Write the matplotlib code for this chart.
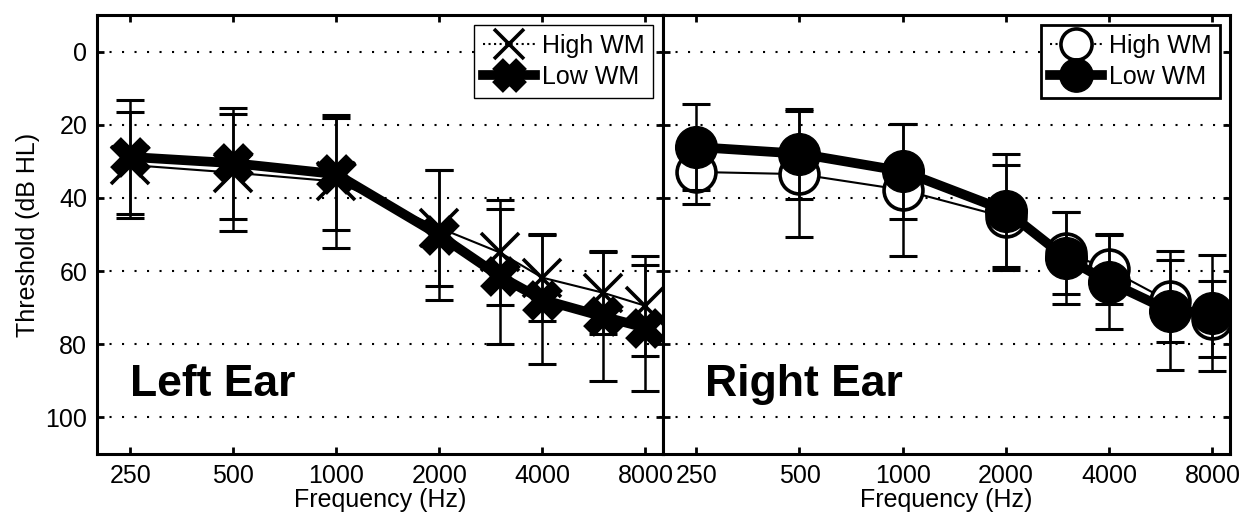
import numpy as np
import matplotlib
matplotlib.use('Agg')
import matplotlib.pyplot as plt
from matplotlib.ticker import NullLocator

plt.rcParams['font.family'] = ['Liberation Sans', 'DejaVu Sans']

# audiometric frequencies (Hz)
freqs = [250, 500, 1000, 2000, 3000, 4000, 6000, 8000]
tick_freqs = [250, 500, 1000, 2000, 4000, 8000]
tick_labels = ['250', '500', '1000', '2000', '4000', '8000']
y_ticks = [0, 20, 40, 60, 80, 100]

# left ear thresholds (dB HL), mean and sd
left_high = [31.0, 33.1, 35.5, 48.2, 54.9, 61.8, 65.9, 69.5]
left_high_sd = [14.5, 16.0, 18.3, 15.8, 14.3, 11.9, 11.4, 13.6]
left_low = [28.8, 30.5, 33.5, 50.2, 61.4, 67.8, 72.4, 75.5]
left_low_sd = [15.6, 15.2, 15.3, 17.8, 18.4, 17.6, 17.6, 17.2]

# right ear thresholds (dB HL), mean and sd
right_high = [32.9, 33.5, 37.8, 45.3, 55.0, 59.5, 68.3, 73.2]
right_high_sd = [8.8, 17.2, 18.0, 14.3, 11.2, 9.6, 11.2, 10.4]
right_low = [26.1, 27.9, 32.7, 43.5, 56.5, 63.0, 70.8, 71.5]
right_low_sd = [11.8, 12.3, 13.0, 15.5, 12.6, 12.8, 16.3, 15.8]

fig = plt.figure(figsize=(12.42, 5.19), dpi=100)
ax1 = fig.add_axes([97/1242, 65/519, 566/1242, 439/519])
ax2 = fig.add_axes([663/1242, 65/519, 567/1242, 439/519])


def setup(ax, show_y):
    ax.set_xscale('log', base=2)
    ax.set_xlim(200, 9000)
    ax.set_ylim(110, -10)
    ax.set_xticks(tick_freqs)
    ax.set_xticklabels(tick_labels)
    ax.xaxis.set_minor_locator(NullLocator())
    ax.set_yticks(y_ticks)
    if not show_y:
        ax.set_yticklabels([])
    ax.tick_params(direction='in', length=5, width=2, top=True, right=True,
                   labelsize=18, pad=7)
    for sp in ax.spines.values():
        sp.set_linewidth(2.2)
    ax.yaxis.grid(True, color='k', linestyle=(0, (1, 5)), linewidth=1.5)
    ax.set_axisbelow(True)
    ax.set_xlabel('Frequency (Hz)', fontsize=18, labelpad=0)


def make_legend(ax, frame_lw):
    leg = ax.legend(loc='upper right', fontsize=18, fancybox=False, framealpha=1,
                    edgecolor='k', borderaxespad=0.4, handlelength=2.1,
                    handletextpad=0.25, borderpad=0.35, labelspacing=0.3,
                    markerscale=0.8)
    leg.get_frame().set_linewidth(frame_lw)
    # thin series is drawn dotted in the legend key
    leg.get_lines()[0].set_linestyle(':')
    leg.get_lines()[0].set_linewidth(1.5)
    return leg


setup(ax1, True)
setup(ax2, False)
ax1.set_ylabel('Threshold (dB HL)', fontsize=18)

eb = dict(fmt='none', ecolor='k', elinewidth=1.8, capsize=10, capthick=2.2, zorder=5)

# left ear
ax1.errorbar(freqs, left_high, yerr=left_high_sd, **eb)
ax1.errorbar(freqs, left_low, yerr=left_low_sd, **eb)
ax1.plot(freqs, left_high, color='k', lw=1.5, marker='x', ms=27, mew=2.6,
         label='High WM', zorder=3)
ax1.plot(freqs, left_low, color='k', lw=7, marker='x', ms=21, mew=11,
         label='Low WM', zorder=4)
ax1.text(250, 91, 'Left Ear', fontsize=32, fontweight='bold', va='center')
make_legend(ax1, 1.0)

# right ear
ax2.errorbar(freqs, right_high, yerr=right_high_sd, **eb)
ax2.errorbar(freqs, right_low, yerr=right_low_sd, **eb)
ax2.plot(freqs, right_high, color='k', lw=1.5, marker='o', ms=28, mew=2.6,
         mfc='white', label='High WM', zorder=3)
ax2.plot(freqs, right_low, color='k', lw=7, marker='o', ms=30,
         label='Low WM', zorder=4)
ax2.text(265, 91, 'Right Ear', fontsize=32, fontweight='bold', va='center')
make_legend(ax2, 2.0)

fig.savefig('out.png', dpi=100)
